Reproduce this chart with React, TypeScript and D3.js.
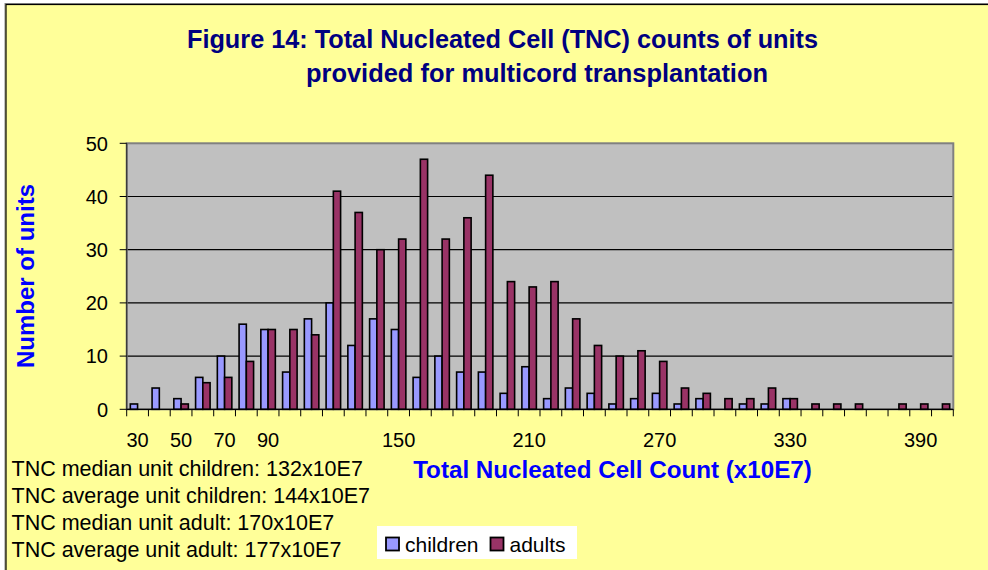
import React from "react";
import * as d3 from "d3";

const categories = [30, 40, 50, 60, 70, 80, 90, 100, 110, 120, 130, 140, 150, 160, 170, 180, 190, 200, 210, 220, 230, 240, 250, 260, 270, 280, 290, 300, 310, 320, 330, 340, 350, 360, 370, 380, 390, 400];
const children = [1, 4, 2, 6, 10, 16, 15, 7, 17, 20, 12, 17, 15, 6, 10, 7, 7, 3, 8, 2, 4, 3, 1, 2, 3, 1, 2, 0, 1, 1, 2, 0, 0, 0, 0, 0, 0, 0];
const adults = [0, 0, 1, 5, 6, 9, 15, 15, 14, 41, 37, 30, 32, 47, 32, 36, 44, 24, 23, 24, 17, 12, 10, 11, 9, 4, 3, 2, 2, 4, 2, 1, 1, 1, 0, 1, 1, 1];
const xTickLabels = [30, 50, 70, 90, 150, 210, 270, 330, 390];
const yTicks = [0, 10, 20, 30, 40, 50];
const statLines = [
  "TNC median unit children: 132x10E7",
  "TNC average unit children: 144x10E7",
  "TNC median unit adult: 170x10E7",
  "TNC average unit adult: 177x10E7",
];
const seriesNames = ["children", "adults"];
const seriesColors = ["#9999FF", "#993366"];

export default function App() {
  const W = 988, H = 570;
  const left = 126.7, right = 953.3, top = 143.3, bottom = 409.3;
  const x = d3.scaleBand<number>().domain(categories).range([left, right]).padding(0);
  const y = d3.scaleLinear().domain([0, 50]).range([bottom, top]);
  const bw = x.bandwidth();
  const font = "Arial, 'Liberation Sans', sans-serif";
  const boundaries = categories.map((c) => x(c) as number).concat([right]);

  return (
    <svg width={W} height={H} style={{ position: "absolute", left: 0, top: 0, background: "#fff" }} fontFamily={font}>
      {/* chart area */}
      <rect x={5} y={3.5} width={1000} height={600} fill="#FFFF99" stroke="#888" strokeWidth={1} />
      <rect x={6} y={4.5} width={1000} height={600} fill="#FFFF99" stroke="#000" strokeWidth={1.2} />

      {/* title */}
      <text x={187} y={47.5} fontSize={26} fontWeight="bold" fill="#000080" textLength={631} lengthAdjust="spacingAndGlyphs">
        Figure 14: Total Nucleated Cell (TNC) counts of units
      </text>
      <text x={306} y={81.5} fontSize={26} fontWeight="bold" fill="#000080" textLength={462} lengthAdjust="spacingAndGlyphs">
        provided for multicord transplantation
      </text>

      {/* plot area */}
      <rect x={left} y={top} width={right - left} height={bottom - top} fill="#C0C0C0" />
      {yTicks.filter((t) => t > 0 && t < 50).map((t) => (
        <line key={t} x1={left} x2={right} y1={y(t)} y2={y(t)} stroke="#000" strokeWidth={1.2} />
      ))}
      <rect x={left} y={top} width={right - left} height={bottom - top} fill="none" stroke="#808080" strokeWidth={2} />

      {/* bars */}
      {categories.map((c, i) => {
        const x0 = x(c) as number;
        return (
          <g key={c}>
            {children[i] > 0 && (
              <rect x={x0 + bw / 6} y={y(children[i])} width={bw / 3} height={bottom - y(children[i])} fill={seriesColors[0]} stroke="#000" strokeWidth={1.6} />
            )}
            {adults[i] > 0 && (
              <rect x={x0 + bw / 2} y={y(adults[i])} width={bw / 3} height={bottom - y(adults[i])} fill={seriesColors[1]} stroke="#000" strokeWidth={1.6} />
            )}
          </g>
        );
      })}

      {/* axes */}
      <line x1={left} x2={left} y1={top} y2={bottom} stroke="#333" strokeWidth={1.2} />
      <line x1={left} x2={right} y1={bottom} y2={bottom} stroke="#000" strokeWidth={1.2} />
      {yTicks.map((t) => (
        <g key={t}>
          <line x1={left - 7} x2={left} y1={y(t)} y2={y(t)} stroke="#000" strokeWidth={1} />
          <text x={108} y={y(t)} dy="0.36em" textAnchor="end" fontSize={20} fill="#000">{t}</text>
        </g>
      ))}
      {boundaries.map((b, i) => (
        <line key={i} x1={b} x2={b} y1={bottom} y2={bottom + 7} stroke="#000" strokeWidth={1} />
      ))}
      {xTickLabels.map((c) => (
        <text key={c} x={(x(c) as number) + bw / 2} y={447} textAnchor="middle" fontSize={20} fill="#000">{c}</text>
      ))}

      {/* axis titles */}
      <text x={612.5} y={478} textAnchor="middle" fontSize={24.2} fontWeight="bold" fill="#0000FF">
        Total Nucleated Cell Count (x10E7)
      </text>
      <text transform="translate(34,276) rotate(-90)" textAnchor="middle" fontSize={24} fontWeight="bold" fill="#0000FF">
        Number of units
      </text>

      {/* stats */}
      {statLines.map((s, i) => (
        <text key={i} x={11.5} y={476 + i * 27} fontSize={21.5} fill="#000">{s}</text>
      ))}

      {/* legend */}
      <rect x={377} y={526} width={200} height={33} fill="#fff" />
      {seriesNames.map((n, i) => {
        const lx = i === 0 ? 386 : 490.5;
        return (
          <g key={n}>
            <rect x={lx} y={537.5} width={13} height={13} fill={seriesColors[i]} stroke="#000" strokeWidth={1.8} />
            <text x={lx + 19} y={552} fontSize={21} fill="#000">{n}</text>
          </g>
        );
      })}
    </svg>
  );
}
